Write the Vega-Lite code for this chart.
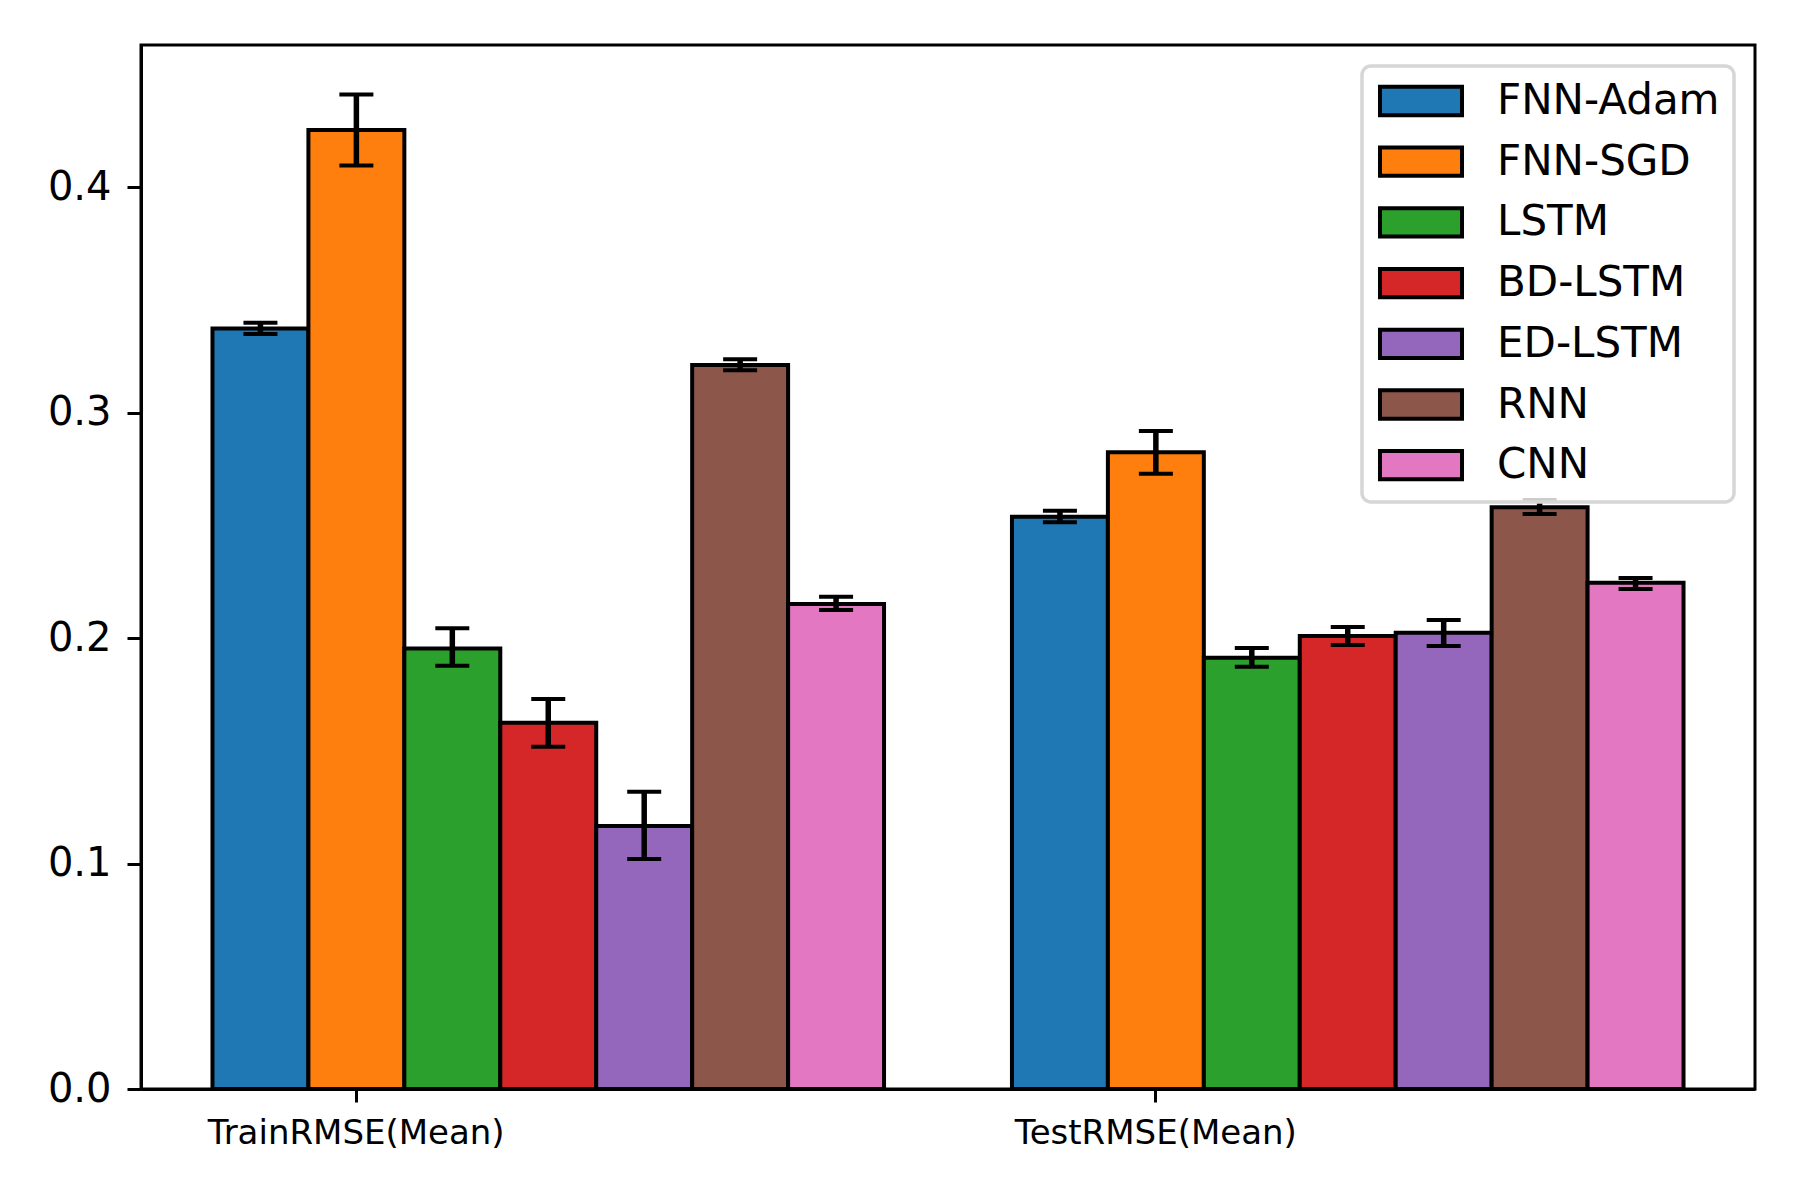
{
  "$schema": "https://vega.github.io/schema/vega-lite/v6.json",
  "width": 1614,
  "height": 1044,
  "autosize": "none",
  "padding": {"left": 141, "top": 45, "right": 45, "bottom": 111},
  "background": "white",
  "data": {
    "values": [
      {"metric": "TrainRMSE(Mean)", "model": "FNN-Adam", "mean": 0.3373, "lo": 0.3348, "hi": 0.3398},
      {"metric": "TrainRMSE(Mean)", "model": "FNN-SGD", "mean": 0.4253, "lo": 0.4096, "hi": 0.4410},
      {"metric": "TrainRMSE(Mean)", "model": "LSTM", "mean": 0.1954, "lo": 0.1877, "hi": 0.2043},
      {"metric": "TrainRMSE(Mean)", "model": "BD-LSTM", "mean": 0.1624, "lo": 0.1518, "hi": 0.1730},
      {"metric": "TrainRMSE(Mean)", "model": "ED-LSTM", "mean": 0.1166, "lo": 0.1020, "hi": 0.1318},
      {"metric": "TrainRMSE(Mean)", "model": "RNN", "mean": 0.3211, "lo": 0.3188, "hi": 0.3236},
      {"metric": "TrainRMSE(Mean)", "model": "CNN", "mean": 0.2151, "lo": 0.2124, "hi": 0.2183},
      {"metric": "TestRMSE(Mean)", "model": "FNN-Adam", "mean": 0.2538, "lo": 0.2514, "hi": 0.2565},
      {"metric": "TestRMSE(Mean)", "model": "FNN-SGD", "mean": 0.2824, "lo": 0.2729, "hi": 0.2918},
      {"metric": "TestRMSE(Mean)", "model": "LSTM", "mean": 0.1913, "lo": 0.1873, "hi": 0.1956},
      {"metric": "TestRMSE(Mean)", "model": "BD-LSTM", "mean": 0.2009, "lo": 0.1969, "hi": 0.2049},
      {"metric": "TestRMSE(Mean)", "model": "ED-LSTM", "mean": 0.2023, "lo": 0.1965, "hi": 0.2080},
      {"metric": "TestRMSE(Mean)", "model": "RNN", "mean": 0.2580, "lo": 0.2550, "hi": 0.2612},
      {"metric": "TestRMSE(Mean)", "model": "CNN", "mean": 0.2245, "lo": 0.2217, "hi": 0.2266}
    ]
  },
  "encoding": {
    "x": {
      "field": "metric",
      "type": "nominal",
      "sort": ["TrainRMSE(Mean)", "TestRMSE(Mean)"],
      "scale": {"paddingInner": 0.16, "paddingOuter": 0.0894},
      "axis": {
        "title": null,
        "labelAngle": 0,
        "bandPosition": 0.2143,
        "labelOffset": -192,
        "labelLimit": 0,
        "labelFontSize": 34,
        "labelPadding": 14,
        "tickSize": 13,
        "tickWidth": 3,
        "domainWidth": 3
      }
    },
    "xOffset": {
      "field": "model",
      "type": "nominal",
      "sort": ["FNN-Adam", "FNN-SGD", "LSTM", "BD-LSTM", "ED-LSTM", "RNN", "CNN"],
      "scale": {"paddingInner": 0, "paddingOuter": 0}
    }
  },
  "layer": [
    {
      "mark": {"type": "bar", "stroke": "black", "strokeWidth": 4},
      "encoding": {
        "y": {
          "field": "mean",
          "type": "quantitative",
          "scale": {"domain": [0, 0.463], "nice": false},
          "axis": {
            "title": null,
            "values": [0, 0.1, 0.2, 0.3, 0.4],
            "format": ".1f",
            "labelFontSize": 40,
            "labelPadding": 16,
            "tickSize": 14,
            "tickWidth": 3,
            "domainWidth": 3,
            "grid": false
          }
        },
        "color": {
          "field": "model",
          "type": "nominal",
          "sort": ["FNN-Adam", "FNN-SGD", "LSTM", "BD-LSTM", "ED-LSTM", "RNN", "CNN"],
          "scale": {
            "domain": ["FNN-Adam", "FNN-SGD", "LSTM", "BD-LSTM", "ED-LSTM", "RNN", "CNN"],
            "range": ["#1f77b4", "#ff7f0e", "#2ca02c", "#d62728", "#9467bd", "#8c564b", "#e377c2"]
          },
          "legend": {
            "title": null,
            "orient": "none",
            "legendX": 1221,
            "legendY": 21,
            "padding": 14,
            "symbolType": "M-2.9,-1H2.9V1H-2.9Z",
            "symbolSize": 800,
            "symbolStrokeColor": "black",
            "symbolStrokeWidth": 4,
            "symbolOpacity": 1,
            "symbolOffset": 24,
            "labelOffset": 55,
            "labelLimit": 0,
            "labelFontSize": 42,
            "labelColor": "black",
            "rowPadding": 14.7,
            "fillColor": "rgba(255,255,255,0.8)",
            "strokeColor": "#d6d6d6",
            "cornerRadius": 9
          }
        }
      }
    },
    {
      "mark": {"type": "rule", "color": "black", "strokeWidth": 5.5},
      "encoding": {
        "y": {"field": "lo", "type": "quantitative"},
        "y2": {"field": "hi"}
      }
    },
    {
      "transform": [{"fold": ["lo", "hi"], "as": ["end", "value"]}],
      "mark": {"type": "tick", "color": "black", "size": 34, "thickness": 4, "opacity": 1},
      "encoding": {
        "y": {"field": "value", "type": "quantitative"}
      }
    }
  ],
  "config": {
    "font": "DejaVu Sans",
    "view": {"stroke": "black", "strokeWidth": 3},
    "axis": {
      "labelColor": "black",
      "tickColor": "black",
      "domainColor": "black",
      "labelFont": "DejaVu Sans"
    },
    "legend": {
      "labelFont": "DejaVu Sans",
      "strokeWidth": 3.5
    }
  }
}
